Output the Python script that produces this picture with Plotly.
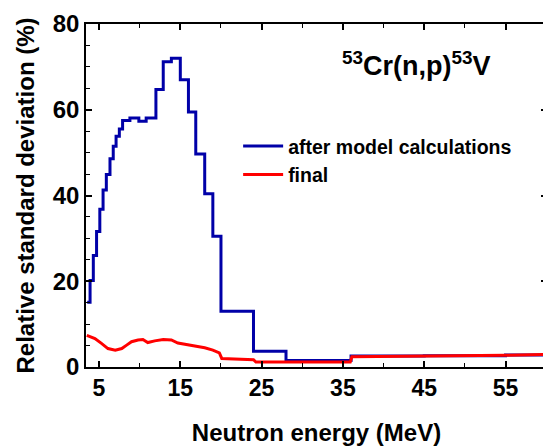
import plotly.graph_objects as go

# Blue: after model calculations (step histogram, left edges -> value)
blue_e = [3.55, 3.9, 4.3, 4.7, 5.1, 5.5, 5.9, 6.35, 6.75, 7.1, 7.5, 7.9, 8.8, 9.9,
          10.8, 12.0, 12.9, 13.9, 15.0, 16.0, 16.9, 18.0, 19.0, 20.0, 24.0, 28.0,
          36.0, 45.0, 55.0, 60.0]
blue_v = [15.1, 20.2, 26.0, 31.6, 36.8, 41.3, 44.9, 48.6, 51.5, 53.8, 55.5, 57.5, 58.1, 57.3,
          58.1, 64.7, 71.2, 72.0, 67.0, 59.5, 49.7, 40.4, 30.5, 13.0, 3.7, 1.5,
          2.55, 2.65, 2.8, 2.8]

# Red: final
red_e = [3.5, 4.5, 5.3, 6.1, 7.0, 7.8, 8.4, 9.0, 9.8, 10.4, 11.0, 11.85, 12.9, 13.9,
         14.7, 15.7, 16.9, 18.0, 19.0, 19.8, 20.1, 24.0, 24.3, 35.9, 36.1, 45.0, 55.0, 60.0]
red_v = [7.4, 6.65, 5.5, 4.3, 3.9, 4.3, 5.1, 5.9, 6.3, 6.4, 5.7, 6.1, 6.4, 6.3,
         5.6, 5.25, 4.95, 4.5, 3.95, 3.3, 2.0, 1.7, 1.15, 1.15, 2.4, 2.5, 2.75, 2.9]

x_ticks = [5, 15, 25, 35, 45, 55]
y_ticks = [0, 20, 40, 60, 80]

FONT = "Liberation Sans, Arial, sans-serif"

fig = go.Figure()
fig.add_trace(go.Scatter(x=blue_e, y=blue_v, mode="lines", line_shape="hv",
                         line=dict(color="#0000A8", width=3),
                         name="after model calculations", legendgroup="a"))
fig.add_trace(go.Scatter(x=red_e, y=red_v, mode="lines",
                         line=dict(color="#FF0000", width=3),
                         name="final", legendgroup="b"))

fig.add_annotation(xref="paper", yref="paper", x=0.718, y=0.884,
                   xanchor="center", yanchor="middle",
                   text="<sup>53</sup>Cr(n,p)<sup>53</sup>V", showarrow=False,
                   font=dict(family=FONT, size=27, color="black", weight="bold"))

axis_common = dict(showline=True, linecolor="black", linewidth=1.5, mirror="ticks",
                   ticks="inside", tickcolor="black", tickwidth=1.5, ticklen=6,
                   showgrid=False, zeroline=False)

fig.update_xaxes(range=[3.4, 60.1], tickvals=x_ticks, ticktext=[str(v) for v in x_ticks],
                 minor=dict(ticks="inside", tickvals=[10, 20, 30, 40, 50, 60], ticklen=4,
                            tickcolor="black", tickwidth=1.2),
                 tickfont=dict(family=FONT, size=23, color="black", weight="bold"),
                 title=dict(text="Neutron energy (MeV)", standoff=24,
                            font=dict(family=FONT, size=24, color="black", weight="bold")),
                 **axis_common)
fig.update_yaxes(range=[0, 80], tickvals=y_ticks,
                 minor=dict(ticks="inside", dtick=5, tick0=0, ticklen=4,
                            tickcolor="black", tickwidth=1.2),
                 tickfont=dict(family=FONT, size=24, color="black", weight="bold"),
                 title=dict(text="Relative standard deviation (%)", standoff=11,
                            font=dict(family=FONT, size=24, color="black", weight="bold")),
                 **axis_common)

fig.update_layout(
    width=543, height=438,
    margin=dict(l=78, r=2, t=14, b=79),
    plot_bgcolor="white", paper_bgcolor="white",
    showlegend=True,
    legend=dict(x=0.33, y=0.70, xanchor="left", yanchor="top",
                bgcolor="rgba(0,0,0,0)", traceorder="grouped", tracegroupgap=0,
                itemwidth=40,
                font=dict(family=FONT, size=19.5, color="black", weight="bold")),
)

fig.write_html("out.html")
